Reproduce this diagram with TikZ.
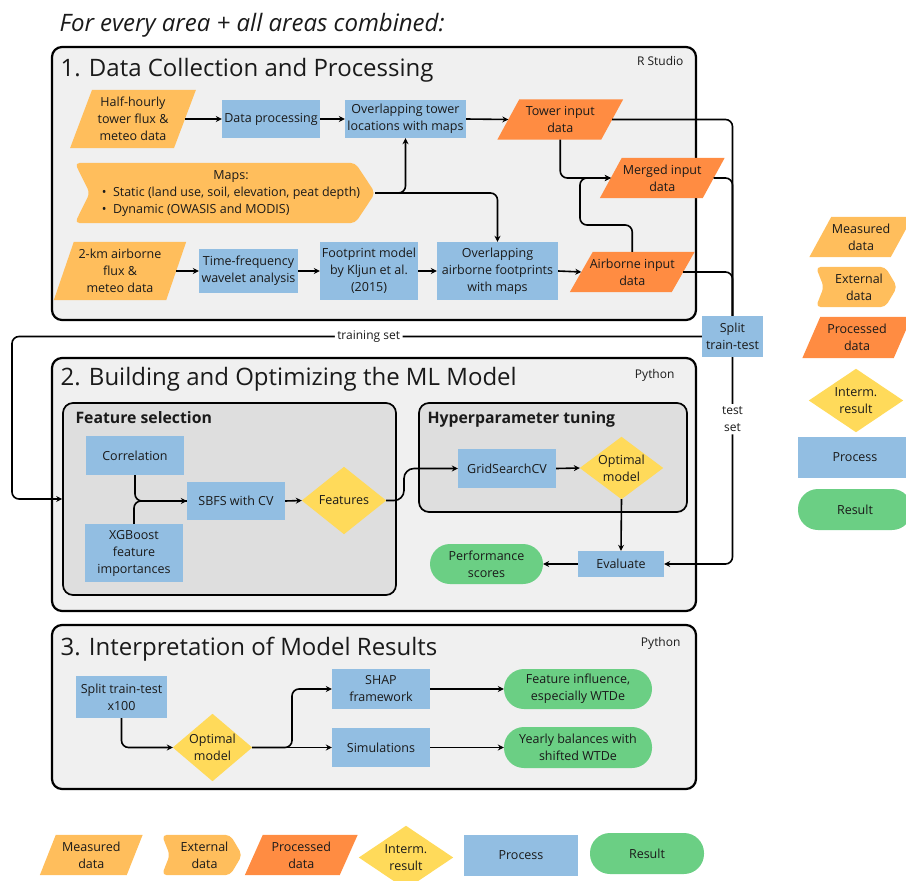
\documentclass[tikz,border=0pt]{standalone}
\usepackage{fontspec}
\setmainfont{Open Sans}
\usetikzlibrary{arrows.meta}
\pgfdeclarelayer{boxes}
\pgfdeclarelayer{shapes}
\pgfsetlayers{boxes,shapes,main}
\definecolor{cmeas}{HTML}{FFBE5C}
\definecolor{cproc}{HTML}{FF8C42}
\definecolor{cint}{HTML}{FFDA5A}
\definecolor{cblue}{HTML}{92BEE2}
\definecolor{cgreen}{HTML}{6BCF84}
\definecolor{cbox}{HTML}{F0F0F0}
\definecolor{cinner}{HTML}{DEDEDE}
\definecolor{ctext}{HTML}{1A1A1A}
\newcommand\mypara[3]{\fill[#3] ([xshift={#2/2}]#1.north west) -- ([xshift={#2/2}]#1.north east) -- ([xshift={-#2/2}]#1.south east) -- ([xshift={-#2/2}]#1.south west) -- cycle;}
\newcommand\mydiam[2]{\fill[#2] (#1.north) -- (#1.east) -- (#1.south) -- (#1.west) -- cycle;}
\newcommand\myext[4]{\fill[#4, rounded corners=5pt] (#1.north west) -- ([xshift=-#3pt]#1.north east) -- (#1.east) -- ([xshift=-#3pt]#1.south east) -- (#1.south west) -- ([xshift=#2pt]#1.west) -- cycle;}
\begin{document}
\begin{tikzpicture}[x=1pt,y=-1pt,
  every node/.style={text=ctext, font=\fontsize{12.5}{17}\selectfont},
  sz/.style 2 args={minimum width=#1, minimum height=#2},
  base/.style={inner sep=0pt, align=center},
  proc/.style={base, fill=cblue},
  res/.style={base, fill=cgreen, rounded corners=20pt},
  frame/.style={draw=black, line width=2.2pt, fill=cbox, rounded corners=10pt, inner sep=0pt},
  inframe/.style={draw=black, line width=1.7pt, fill=cinner, rounded corners=10pt, inner sep=0pt},
  sect/.style={anchor=base west, font=\fontsize{24}{28}\selectfont},
  tool/.style={anchor=base east, font=\fontsize{12}{15}\selectfont},
  sub/.style={anchor=base west, font=\fontsize{15.8}{18}\selectfont\bfseries},
  lbl/.style={fill=white, inner sep=2.5pt, align=center, font=\fontsize{12}{17}\selectfont},
  conn/.style={line width=1.6pt, rounded corners=7pt},
  arr/.style={conn, -{Stealth[length=6pt,width=6pt,inset=2pt]}},
]
\useasboundingbox (0,0) rectangle (906,881);

% ---------- frames ----------
\begin{pgfonlayer}{boxes}
\node[frame, sz={644}{273}] (b1) at (374,183.5) {};
\node[frame, sz={644}{253}] (b2) at (374,484.5) {};
\node[frame, sz={644}{164}] (b3) at (374,707) {};
\node[inframe, sz={333}{192}] (fsbox) at (229.5,499) {};
\node[inframe, sz={268}{109}] (htbox) at (553,457.5) {};
\end{pgfonlayer}

% ---------- titles ----------
\node[anchor=base west, font=\fontsize{24}{28}\selectfont\itshape] (top) at (56,31) {For every area + all areas combined:};
\node[sect] (t1) at (57,76) {1. Data Collection and Processing};
\node[sect] (t2) at (57,385) {2. Building and Optimizing the ML Model};
\node[sect] (t3) at (57,655) {3. Interpretation of Model Results};
\node[tool] (rs) at (687,65) {R Studio};
\node[tool] (py2) at (678,378) {Python};
\node[tool] (py3) at (684,646) {Python};
\node[sub] (fst) at (72,423) {Feature selection};
\node[sub] (htt) at (424,423) {Hyperparameter tuning};

% ---------- section 1 ----------
\node[base, sz={103.5}{58}] (hh) at (133,119) {Half-hourly\\tower flux \&\\meteo data};
\node[proc, sz={98}{38}] (dp) at (271,119) {Data processing};
\node[proc, sz={121}{38}] (olt) at (405.5,119) {Overlapping tower\\locations with maps};
\node[base, sz={103.5}{40}] (twr) at (560.25,119.5) {Tower input\\data};
\node[base, sz={102.5}{40}] (mrg) at (662.25,178) {Merged input\\data};
\node[base, sz={300}{60}] (maps) at (225,193) {\hspace*{12pt}\begin{tabular}{@{}l@{}}\multicolumn{1}{@{}c@{}}{Maps:}\\\textbullet\ \ Static (land use, soil, elevation, peat depth)\\\textbullet\ \ Dynamic (OWASIS and MODIS)\end{tabular}};
\node[base, sz={112}{58}] (km) at (120,271) {2-km airborne\\flux \&\\meteo data};
\node[proc, sz={99}{44}] (tfw) at (248.5,271) {Time-frequency\\wavelet analysis};
\node[proc, sz={98}{58}] (fpm) at (369,271) {Footprint model\\by Kljun et al.\\(2015)};
\node[proc, sz={121}{58}] (ola) at (497.5,271) {Overlapping\\airborne footprints\\with maps};
\node[base, sz={101.5}{40}] (air) at (632.25,272) {Airborne input\\data};
\node[proc, sz={61}{41}] (split) at (732.5,336.5) {Split\\train-test};

% ---------- section 2 ----------
\node[proc, sz={98}{39}] (corr) at (135,455.5) {Correlation};
\node[proc, sz={98}{58}] (xgb) at (134,553) {XGBoost\\feature\\importances};
\node[proc, sz={98}{38}] (sbfs) at (236,501) {SBFS with CV};
\node[base, sz={84}{67}] (feat) at (344,500.5) {Features};
\node[proc, sz={98}{39}] (gscv) at (507,468.5) {GridSearchCV};
\node[base, sz={83}{62}] (opt) at (621.5,468) {Optimal\\model};
\node[proc, sz={86}{26}] (eval) at (621,564) {Evaluate};
\node[res, sz={113}{40}] (perf) at (486.5,564) {Performance\\scores};

% ---------- section 3 ----------
\node[proc, sz={91}{42}] (split3) at (121.5,697) {Split train-test\\x100};
\node[base, sz={79}{67}] (opt3) at (212.5,747.5) {Optimal\\model};
\node[proc, sz={98}{40}] (shap) at (381,689) {SHAP\\framework};
\node[proc, sz={98}{39}] (sim) at (381,747.5) {Simulations};
\node[res, sz={148}{40}] (fi) at (578,689) {Feature influence,\\especially WTDe};
\node[res, sz={148}{41}] (yb) at (578,747.5) {Yearly balances with\\shifted WTDe};

% ---------- legends ----------
\node[base, sz={86.5}{40}] (lmeas) at (91.25,855) {Measured\\data};
\node[base, sz={80}{40}] (lext) at (202,855) {\hspace*{5pt}External\\\hspace*{5pt}data};
\node[base, sz={94.5}{40}] (lprocd) at (301.25,855) {Processed\\data};
\node[base, sz={94}{63}] (lint) at (406,857.5) {Interm.\\result};
\node[proc, sz={114}{41}] (lproc) at (521,855.5) {Process};
\node[res, sz={114}{41}] (lres) at (647,853.5) {Result};

\node[base, sz={81}{40}] (rmeas) at (861,237) {Measured\\data};
\node[base, sz={81}{40}] (rext) at (856.5,287) {\hspace*{5pt}External\\\hspace*{5pt}data};
\node[base, sz={91}{41}] (rprocd) at (857,337.5) {Processed\\data};
\node[base, sz={94}{63}] (rint) at (856,400.5) {Interm.\\result};
\node[proc, sz={114}{41}] (rproc) at (855,457.5) {Process};
\node[res, sz={114}{41}] (rres) at (855,509.5) {Result};

% ---------- shapes ----------
\begin{pgfonlayer}{shapes}
\mypara{hh}{22}{cmeas}
\mypara{km}{20}{cmeas}
\mypara{twr}{22}{cproc}
\mypara{mrg}{22}{cproc}
\mypara{air}{23}{cproc}
\myext{maps}{15}{20}{cmeas}
\mydiam{feat}{cint}
\mydiam{opt}{cint}
\mydiam{opt3}{cint}
\mypara{lmeas}{16}{cmeas}
\myext{lext}{8}{12}{cmeas}
\mypara{lprocd}{18}{cproc}
\mydiam{lint}{cint}
\mypara{rmeas}{22}{cmeas}
\myext{rext}{8}{12}{cmeas}
\mypara{rprocd}{18}{cproc}
\mydiam{rint}{cint}
\end{pgfonlayer}

% ---------- connectors ----------
\coordinate (j1) at (580,225);
\coordinate (tl) at (12,336.5);
\coordinate (bl) at (12,499);
\coordinate (s1) at (404,500.5);
\coordinate (s2) at (404,468.5);
\coordinate (br) at (292,747.5);

\draw[arr] (hh.east) -- (dp.west);
\draw[arr] (dp.east) -- (olt.west);
\draw[arr] (olt.east) -- (twr.west);
\draw[arr] (maps.east) -| (olt.south);
\draw[arr] (maps.east) -| (ola.north);
\draw[arr] (km.east) -- (tfw.west);
\draw[arr] (tfw.east) -- (fpm.west);
\draw[arr] (fpm.east) -- (ola.west);
\draw[arr] (ola.east) -- (air.west);
\draw[arr] (twr.south) |- (mrg.west);
\draw[arr] (air.north) |- (j1) |- (mrg.west);
\draw[conn] (twr.east) -| (split.north);
\draw[conn] (mrg.east) -| (split.north);
\draw[conn] (air.east) -| (split.north);

\draw[arr] (split.west) -- node[lbl, pos=0.483] {training set} (tl) -- (bl) -- (fsbox.west);
\draw[arr] (split.south) -- node[lbl, pos=0.3] {test\\set} (split.south |- eval.east) -- (eval.east);

\draw[arr] (corr.south) |- (sbfs.west);
\draw[conn] (xgb.north) |- (sbfs.west);
\draw[arr] (sbfs.east) -- (feat.west);
\draw[arr, rounded corners=10pt] (feat.east) -- (s1) -- (s2) -- (gscv.west);
\draw[arr] (gscv.east) -- (opt.west);
\draw[arr] (opt.south) -- (eval.north);
\draw[arr] (eval.west) -- (perf.east);

\draw[arr] (split3.south) |- (opt3.west);
\draw[arr] (opt3.east) -- (sim.west);
\draw[arr] (opt3.east) -- (br) |- (shap.west);
\draw[arr] (shap.east) -- (fi.west);
\draw[arr] (sim.east) -- (yb.west);
\end{tikzpicture}
\end{document}
